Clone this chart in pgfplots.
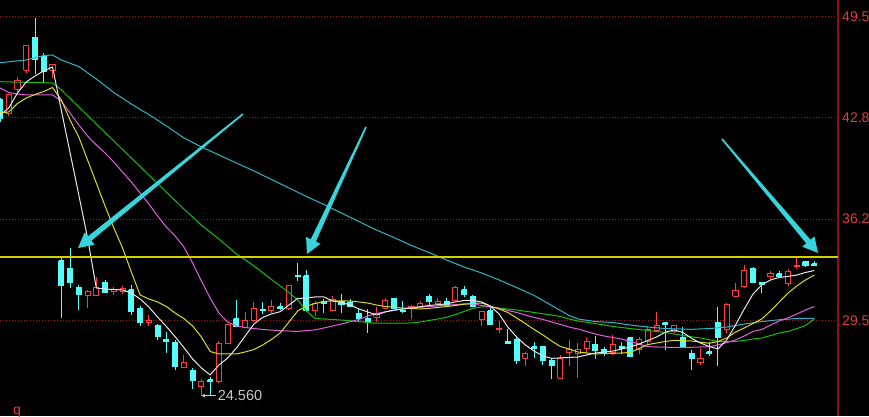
\documentclass[border=0pt]{standalone}
\usepackage{fontspec}
\setmainfont{Liberation Sans}
\usepackage{pgfplots}
\usepackage{pgfplotstable}
\pgfplotsset{compat=1.18}
\usetikzlibrary{calc,arrows.meta}

\definecolor{candleRed}{HTML}{FF3C3C}
\definecolor{candleCyan}{HTML}{54FCFC}
\definecolor{maWhite}{HTML}{E8E8E8}
\definecolor{maYellow}{HTML}{DCDC20}
\definecolor{maMagenta}{HTML}{E060E0}
\definecolor{maGreen}{HTML}{10C010}
\definecolor{maTeal}{HTML}{30B4C8}
\definecolor{levelYellow}{RGB}{210,210,0}
\definecolor{gridRed}{HTML}{A01818}
\definecolor{axisRed}{HTML}{8C1010}
\definecolor{tickRed}{HTML}{E03C3C}
\definecolor{arrowCyan}{HTML}{38D4DC}
\definecolor{lowGrey}{HTML}{C8C8C8}

% daily candles: open, high, low, close
\pgfplotstableread{
i o h l c
0 44.01 44.14 42.56 42.82
1 43.15 44.40 42.95 44.34
2 44.73 45.52 44.53 45.26
3 45.98 47.63 45.78 47.56
4 48.13 49.38 45.72 46.64
5 46.84 47.10 45.19 45.85
6 45.98 46.38 45.45 46.31
7 33.43 33.59 29.67 31.77
8 32.95 34.27 31.64 32.03
9 31.64 31.84 30.19 31.18
10 31.13 31.51 30.30 31.44
11 31.13 32.38 31.11 31.69
12 32.01 32.17 31.29 31.33
13 31.40 31.72 31.18 31.55
14 31.40 31.77 31.24 31.62
15 31.51 31.84 29.86 30.08
16 30.30 30.45 29.14 29.36
17 29.36 29.86 29.14 29.53
18 29.20 29.27 28.22 28.43
19 28.26 28.76 27.38 28.11
20 28.07 28.22 26.24 26.46
21 26.40 27.23 26.36 26.75
22 26.18 26.38 24.99 25.54
23 25.15 25.63 24.56 25.47
24 25.59 25.80 24.62 25.47
25 25.47 28.15 25.39 28.00
26 28.00 29.30 27.95 29.25
27 29.60 30.85 29.07 29.09
28 29.05 30.06 29.01 29.51
29 29.49 30.69 29.43 30.28
30 30.24 30.74 29.91 30.13
31 30.15 30.85 29.97 30.45
32 30.41 30.67 30.19 30.30
33 30.30 31.84 30.19 31.77
34 32.49 33.30 32.12 32.38
35 32.43 32.82 30.08 30.19
36 30.15 30.80 29.80 30.59
37 30.74 30.90 29.97 30.63
38 30.19 31.11 30.13 30.85
39 30.74 31.24 29.97 30.57
40 30.70 30.90 30.37 30.45
41 29.97 30.24 29.49 29.65
42 29.65 30.24 28.70 29.36
43 29.71 30.41 29.42 29.93
44 30.32 30.96 30.26 30.82
45 30.93 30.98 30.26 30.30
46 30.17 30.78 29.97 30.06
47 30.26 30.52 29.57 30.41
48 30.37 30.80 30.32 30.65
49 31.07 31.23 30.55 30.74
50 30.63 30.96 30.45 30.78
51 30.72 30.99 30.39 30.49
52 30.80 31.75 30.78 31.69
53 31.51 31.75 31.07 31.18
54 31.07 31.18 30.39 30.45
55 29.58 30.15 29.14 30.08
56 30.15 30.37 29.20 29.25
57 28.88 29.49 28.70 28.99
58 28.11 28.92 27.95 28.00
59 28.22 28.40 26.64 26.90
60 27.01 27.45 26.51 27.30
61 27.78 28.09 27.01 27.63
62 27.78 27.82 26.57 26.86
63 26.84 27.01 25.63 26.51
64 25.70 27.23 25.65 27.01
65 27.38 28.22 26.51 27.56
66 27.30 28.04 25.70 27.61
67 27.67 28.40 27.30 28.15
68 27.95 28.48 26.95 27.51
69 27.61 27.78 27.17 27.30
70 27.40 28.55 27.23 27.89
71 27.78 28.11 27.30 27.63
72 28.37 28.42 27.07 27.12
73 27.56 28.40 27.30 28.26
74 28.11 29.14 27.89 28.88
75 28.83 30.08 28.76 29.14
76 29.36 29.42 27.56 29.25
77 28.76 29.20 28.71 29.14
78 28.40 29.09 27.69 27.74
79 27.34 27.56 26.24 27.01
80 26.72 27.67 26.57 27.01
81 27.45 28.11 27.17 27.30
82 29.36 30.41 26.51 28.40
83 28.88 30.63 28.66 30.52
84 31.11 31.99 31.08 31.46
85 31.71 33.15 31.64 32.76
86 32.94 32.99 31.97 32.03
87 31.99 32.00 31.29 31.88
88 32.38 32.78 32.21 32.56
89 32.56 32.78 32.34 32.38
90 31.95 32.87 31.77 32.71
91 33.04 33.59 32.87 33.15
92 33.37 33.38 33.00 33.15
93 33.22 33.41 33.09 33.10
}\candles

% moving averages
\pgfplotstableread{
i v
0 43.02
1 43.48
2 44.47
3 45.19
4 45.59
5 45.92
6 46.18
7 43.35
8 40.55
9 37.76
10 34.93
11 31.64
12 31.57
14 31.51
15 31.31
16 30.92
17 30.39
18 29.73
19 29.11
20 28.43
21 27.72
22 26.97
23 26.38
24 25.92
25 26.57
26 27.03
27 27.69
28 28.48
29 29.27
30 29.70
31 29.93
32 30.08
33 30.52
34 30.95
35 30.98
36 31.05
37 31.05
38 30.78
39 30.69
40 30.52
41 30.26
42 30.06
43 29.86
44 30.06
45 30.19
47 30.32
49 30.49
51 30.59
52 30.72
53 30.82
54 30.82
55 30.72
56 30.45
57 29.93
58 29.07
59 28.42
60 27.89
61 27.49
62 27.17
63 27.01
66 27.10
68 27.36
70 27.49
72 27.76
73 27.95
74 28.19
75 28.42
76 28.74
77 28.88
78 28.71
79 28.32
80 28.02
81 27.79
82 27.63
83 28.22
84 29.20
85 30.26
86 31.24
87 31.84
88 32.17
89 32.33
90 32.40
91 32.49
92 32.66
93 32.79
}\maFive

\pgfplotstableread{
i v
0 43.15
1 43.22
2 43.78
3 44.14
4 44.37
5 44.57
6 44.83
7 44.01
8 42.69
9 41.57
10 40.06
11 38.55
12 37.03
13 35.59
14 34.27
15 32.69
16 31.18
17 30.92
18 30.72
19 30.42
20 29.99
21 29.63
22 29.14
23 28.42
24 27.46
25 27.30
27 27.30
28 27.43
29 27.59
30 27.89
31 28.25
32 28.68
33 29.40
34 30.13
35 30.45
36 30.62
37 30.75
38 30.80
40 30.78
41 30.72
42 30.65
43 30.52
44 30.42
45 30.37
46 30.32
48 30.26
49 30.30
50 30.36
51 30.42
52 30.49
53 30.57
54 30.62
55 30.65
56 30.45
57 30.26
58 30.03
59 29.67
60 29.30
61 28.91
62 28.55
63 28.15
64 27.79
65 27.63
66 27.43
68 27.30
71 27.36
72 27.40
73 27.66
74 27.92
75 28.02
76 28.12
77 28.20
79 28.15
81 28.00
82 28.12
83 28.35
84 28.74
85 29.01
86 29.30
87 29.60
88 30.13
89 30.72
90 31.31
91 31.77
92 32.17
93 32.49
}\maTen

\pgfplotstableread{
i v
0 44.80
1 44.50
2 44.40
3 44.34
6 44.34
7 43.94
8 43.15
9 42.36
10 41.64
11 41.05
12 40.52
13 39.93
14 39.27
15 38.61
16 37.89
17 37.17
18 36.38
19 35.65
20 35.06
21 34.34
22 33.28
23 32.10
24 30.98
25 29.99
26 29.40
27 29.14
28 29.04
30 28.91
32 28.83
34 28.78
35 28.84
36 28.88
37 29.01
38 29.14
39 29.27
40 29.43
41 29.57
42 29.80
43 29.96
44 30.08
45 30.16
46 30.26
47 30.36
49 30.42
51 30.50
53 30.59
54 30.59
55 30.49
56 30.39
57 30.29
58 30.16
59 30.03
60 29.86
61 29.70
62 29.57
63 29.40
64 29.24
65 29.07
66 28.94
67 28.78
68 28.61
69 28.48
70 28.38
71 28.28
72 28.12
73 27.95
74 27.78
76 27.74
79 27.74
81 27.78
82 27.89
83 28.05
84 28.22
85 28.48
86 28.78
87 28.91
88 29.20
89 29.47
90 29.67
91 29.93
92 30.19
93 30.42
}\maTwenty

\pgfplotstableread{
i v
0 45.21
6 45.13
7 44.67
9 43.55
11 42.43
13 41.31
15 40.19
17 39.07
19 37.95
21 36.84
23 35.78
25 34.86
27 33.88
29 33.09
31 32.20
33 31.34
34 30.85
35 30.13
36 29.63
37 29.60
39 29.53
41 29.43
43 29.32
46 29.32
47 29.34
48 29.40
49 29.50
50 29.60
51 29.71
52 29.89
53 30.09
54 30.30
55 30.39
56 30.39
57 30.32
59 30.19
61 30.03
63 29.86
64 29.76
65 29.60
66 29.47
68 29.30
70 29.11
72 28.97
74 28.84
76 28.71
78 28.51
80 28.35
82 28.12
83 28.11
84 28.12
85 28.19
86 28.28
87 28.35
88 28.51
89 28.68
90 28.78
91 28.97
92 29.17
93 29.60
}\maThirty

\pgfplotstableread{
i v
0 46.46
3 46.64
5 46.93
6 46.97
7 46.64
9 46.21
11 45.39
13 44.50
15 43.74
17 43.05
19 42.30
21 41.51
23 40.92
25 40.39
27 39.86
29 39.34
31 38.78
33 38.22
35 37.66
37 37.13
39 36.57
41 36.01
43 35.45
45 34.96
47 34.43
49 33.97
51 33.48
53 33.02
55 32.63
57 32.17
59 31.67
61 31.15
63 30.49
65 29.83
66 29.60
68 29.43
70 29.37
72 29.20
74 29.07
76 28.97
79 28.92
81 28.97
83 29.07
85 29.27
87 29.43
89 29.55
91 29.63
93 29.64
}\maSixty

% level line
\pgfplotstableread{
i v
0 33.65
95.71 33.65
}\levelLine

% tapered annotation arrow from #1 to #2
\newcommand\pointer[2]{%
  \coordinate (pT) at (#1);
  \coordinate (pP) at (#2);
  \coordinate (pH) at ($(pP)!15bp!(pT)$);
  \fill[arrowCyan] ($(pT)!0.8bp!90:(pP)$) -- ($(pH)!2.8bp!90:(pP)$)
    -- ($(pH)!8bp!90:(pP)$) -- (pP) -- ($(pH)!8bp!-90:(pP)$)
    -- ($(pH)!2.8bp!-90:(pP)$) -- ($(pT)!0.8bp!-90:(pP)$) -- cycle;
}

\begin{document}
\begin{tikzpicture}[x=1bp,y=1bp]
\useasboundingbox (0,0) rectangle (869,416);
\fill[black] (0,0) rectangle (869,416);
\begin{axis}[
  at={(0,0)}, anchor=south west,
  width=838bp, height=416bp, scale only axis,
  xmin=0, xmax=95.71, ymin=23.217, ymax=50.586,
  axis x line=none,
  axis y line*=right,
  y axis line style={draw=axisRed, line width=2bp},
  ytick={29.5,36.1667,42.8333,49.5},
  yticklabels={29.5,36.2,42.8,49.5},
  major tick length=0pt,
  ymajorgrids,
  major grid style={draw=gridRed, line width=0.8bp, dash pattern=on 1bp off 2bp},
  yticklabel style={text=tickRed, font=\fontsize{14bp}{16bp}\selectfont,
    anchor=west, inner sep=0pt, xshift=4bp},
  /pgf/number format/assume math mode=true,
  clip=true,
]
\pgfplotstablegetrowsof{\candles}
\pgfmathtruncatemacro\lastrow{\pgfplotsretval-1}
\pgfplotsforeachungrouped \k in {0,...,\lastrow}{%
  \pgfplotstablegetelem{\k}{i}\of\candles \let\cI\pgfplotsretval
  \pgfplotstablegetelem{\k}{o}\of\candles \let\cO\pgfplotsretval
  \pgfplotstablegetelem{\k}{h}\of\candles \let\cH\pgfplotsretval
  \pgfplotstablegetelem{\k}{l}\of\candles \let\cL\pgfplotsretval
  \pgfplotstablegetelem{\k}{c}\of\candles \let\cC\pgfplotsretval
  \pgfmathsetmacro\xa{\cI-0.29}%
  \pgfmathsetmacro\xb{\cI+0.29}%
  \ifdim\cC pt<\cO pt
    \edef\candle{%
      \noexpand\addplot[candleCyan, line width=1bp, forget plot]
        coordinates {(\cI,\cL) (\cI,\cH)};
      \noexpand\addplot[draw=candleCyan, fill=candleCyan, line width=1bp, forget plot]
        coordinates {(\xa,\cO) (\xb,\cO) (\xb,\cC) (\xa,\cC) (\xa,\cO)};}%
  \else
    \edef\candle{%
      \noexpand\addplot[candleRed, line width=1bp, forget plot]
        coordinates {(\cI,\cL) (\cI,\cH)};
      \noexpand\addplot[draw=candleRed, fill=black, line width=1bp, forget plot]
        coordinates {(\xa,\cO) (\xb,\cO) (\xb,\cC) (\xa,\cC) (\xa,\cO)};}%
  \fi
  \candle
}
\addplot[maTeal, line width=1bp] table[x=i, y=v] {\maSixty};
\addplot[maGreen, line width=1bp] table[x=i, y=v] {\maThirty};
\addplot[maMagenta, line width=1bp] table[x=i, y=v] {\maTwenty};
\addplot[maYellow, line width=1bp] table[x=i, y=v] {\maTen};
\addplot[maWhite, line width=1bp] table[x=i, y=v] {\maFive};
\addplot[draw=levelYellow, line width=2bp] table[x=i, y=v] {\levelLine};
\coordinate (lowpt) at (axis cs:23,24.56);
\end{axis}
\draw[lowGrey, line width=0.8bp, {Stealth[length=4bp,width=4bp]}-]
  (lowpt) -- ([xshift=15bp]lowpt)
  node[anchor=west, inner sep=1bp, font=\fontsize{14.5bp}{16bp}\selectfont] {24.560};
\pointer{243,302}{78,168}
\pointer{366,289}{307,162}
\pointer{722,277}{818,163}
\node[anchor=north west, inner sep=0pt, text=tickRed, font=\fontsize{14bp}{16bp}\selectfont] at (13,9) {q};
\end{tikzpicture}
\end{document}
